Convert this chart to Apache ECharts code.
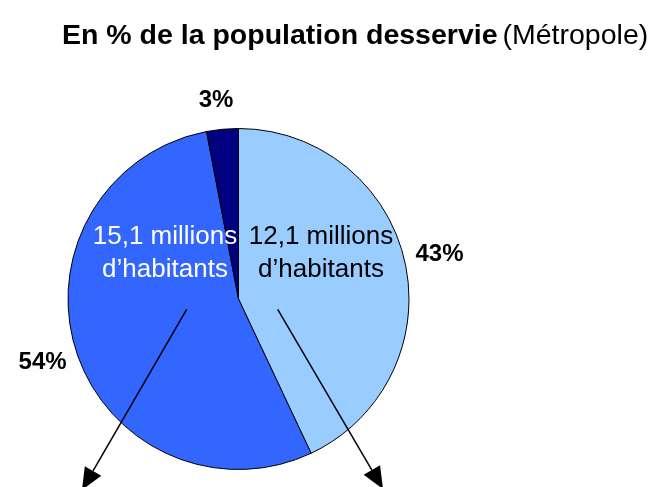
<!DOCTYPE html>
<html>
<head>
<meta charset="utf-8">
<script src="https://cdn.jsdelivr.net/npm/echarts@6/dist/echarts.min.js"></script>
<style>
  html, body { margin: 0; padding: 0; background: #fff; }
  #chart { width: 658px; height: 487px; }
</style>
</head>
<body>
<div id="chart"></div>
<script>
// parts of the population served (Métropole), clockwise from 12 o'clock
var categories = ['Desservie A', 'Desservie B', 'Autre'];
var percents = [43, 54, 3];
var habitants = ['12,1', '15,1', ''];
var colors = ['#99CCFF', '#3366FF', '#000080'];

var cx = 238.5, cy = 299, R = 170.5;
var font = 'Liberation Sans, Arial, sans-serif';

var myChart = echarts.init(document.getElementById('chart'));

// arrow = line + triangular head
function arrow(x1, y1, x2, y2) {
    var dx = x2 - x1, dy = y2 - y1;
    var len = Math.sqrt(dx * dx + dy * dy);
    var ux = dx / len, uy = dy / len;
    var hl = 22, hw = 9.5;
    var bx = x2 - ux * hl, by = y2 - uy * hl;
    return [{
        type: 'line', z: 100,
        shape: { x1: x1, y1: y1, x2: bx, y2: by },
        style: { stroke: '#000', lineWidth: 1.5 }
    }, {
        type: 'polygon', z: 100,
        shape: { points: [[x2, y2], [bx - uy * hw, by + ux * hw], [bx + uy * hw, by - ux * hw]] },
        style: { fill: '#000' }
    }];
}

var graphics = [
    {
        type: 'text', z: 100, x: 165, y: 253.5,
        style: {
            text: habitants[1] + ' millions\nd\u2019habitants',
            fill: '#fff', font: '26px ' + font,
            align: 'center', verticalAlign: 'middle', lineHeight: 33
        }
    },
    {
        type: 'text', z: 100, x: 321, y: 253.5,
        style: {
            text: habitants[0] + ' millions\nd\u2019habitants',
            fill: '#000', font: '26px ' + font,
            align: 'center', verticalAlign: 'middle', lineHeight: 33
        }
    }
].concat(arrow(186.7, 309.3, 82, 490), arrow(277.7, 309.3, 383, 489));

var pieData = categories.map(function (c, i) {
    return { name: c, value: percents[i], itemStyle: { color: colors[i] } };
});

var labelData = categories.map(function (c, i) {
    var d = { name: c, value: percents[i] };
    if (i === 2) d.label = { offset: [-3, 6] };
    return d;
});

var option = {
    backgroundColor: '#fff',
    animation: false,
    title: {
        left: 57,
        top: 14,
        text: '{b|En % de la population desservie} {n|(Métropole)}',
        textStyle: {
            rich: {
                b: { fontFamily: font, fontSize: 28.5, fontWeight: 'bold', color: '#000', lineHeight: 34 },
                n: { fontFamily: font, fontSize: 28.5, fontWeight: 'normal', color: '#000', lineHeight: 34 }
            }
        }
    },
    graphic: graphics,
    series: [
        {
            type: 'pie',
            center: [cx, cy],
            radius: R,
            startAngle: 90,
            clockwise: true,
            silent: true,
            avoidLabelOverlap: false,
            itemStyle: { borderColor: '#000', borderWidth: 1 },
            label: { show: false },
            labelLine: { show: false },
            emphasis: { disabled: true },
            data: pieData
        },
        {
            // invisible ring only used to place the percent labels
            type: 'pie',
            center: [cx, cy],
            radius: [190, 216],
            startAngle: 90,
            clockwise: true,
            silent: true,
            avoidLabelOverlap: false,
            itemStyle: { color: 'transparent', borderWidth: 0 },
            label: {
                show: true,
                position: 'inside',
                color: '#000',
                fontFamily: font,
                fontSize: 24,
                fontWeight: 'bold',
                formatter: function (p) { return p.value + '%'; }
            },
            labelLine: { show: false },
            emphasis: { disabled: true },
            data: labelData
        }
    ]
};

myChart.setOption(option);
</script>
</body>
</html>
